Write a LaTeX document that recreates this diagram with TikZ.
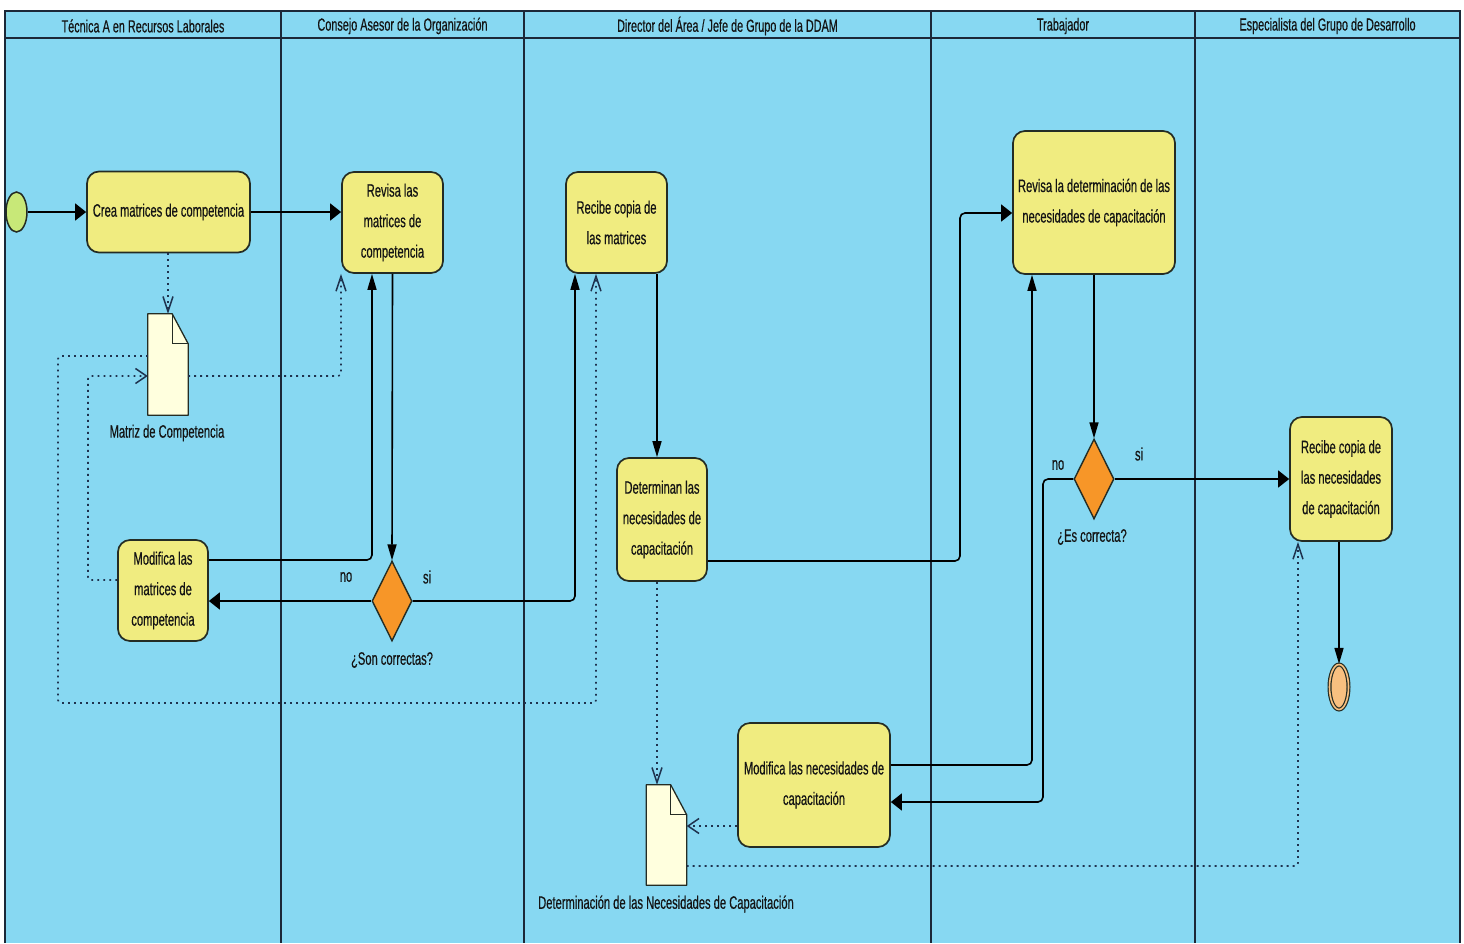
\documentclass[tikz,border=0pt]{standalone}
\usepackage{fontspec}
\setmainfont[FakeStretch=0.62,FakeBold=0.4]{Liberation Sans}
\usetikzlibrary{arrows.meta,shapes.geometric}

\definecolor{lanebg}{RGB}{135,216,242}
\definecolor{actfill}{RGB}{240,236,128}
\definecolor{boxline}{RGB}{36,44,36}
\definecolor{docfill}{RGB}{255,255,222}
\definecolor{decfill}{RGB}{247,150,40}
\definecolor{startfill}{RGB}{200,232,120}
\definecolor{endfill}{RGB}{248,192,128}
\definecolor{laneline}{RGB}{28,40,56}
\definecolor{dotcol}{RGB}{30,50,78}
\definecolor{txtcol}{RGB}{20,20,20}

\begin{document}
\begin{tikzpicture}[x=1pt,y=-1pt,
  txt/.style={font=\fontsize{18}{30.5}\selectfont, text=txtcol, inner sep=0pt, align=center},
  hdr/.style={font=\fontsize{17.5}{20}\selectfont, text=txtcol, inner sep=0pt},
  act/.style={txt, draw=boxline, line width=1.7pt, fill=actfill, rounded corners=12pt},
  dec/.style={diamond, draw=boxline, line width=1.4pt, fill=decfill, inner sep=0pt,
    minimum width=40pt, minimum height=80pt},
  docbox/.style={inner sep=0pt, minimum width=40pt, minimum height=101pt},
  docshape/.style={fill=docfill, draw=boxline, line width=1.3pt, line join=round},
  flow/.style={draw=black, line width=1.6pt, rounded corners=5pt},
  hx/.style={-{Triangle[length=11pt,width=17pt]}},
  vx/.style={-{Triangle[length=16pt,width=9pt]}},
  dep/.style={draw=dotcol, line width=1.6pt, dash pattern=on 1.8pt off 4.2pt, rounded corners=3pt},
  ho/.style={-{Straight Barb[length=11pt,width=15pt,line width=1.5pt]}},
  vo/.style={-{Straight Barb[length=15pt,width=10pt,line width=1.5pt]}}
]
\useasboundingbox (0,0) rectangle (1464,943);
\fill[white] (0,0) rectangle (1464,943);

% pool with five lanes
\fill[lanebg] (5,11) rectangle (1460,943);
\draw[laneline, line width=2pt] (5,943) -- (5,11) -- (1460,11) -- (1460,943);
\draw[laneline, line width=2pt] (5,38) -- (1460,38);
\foreach \lx in {281,524,931,1195}
  \draw[laneline, line width=1.1pt] (\lx,11) -- (\lx,943);

\node[hdr] (h1) at (143,26) {Técnica A en Recursos Laborales};
\node[hdr] (h2) at (402.5,26) {Consejo Asesor de la Organización};
\node[hdr] (h3) at (727.5,26) {Director del Área / Jefe de Grupo de la DDAM};
\node[hdr] (h4) at (1063,26) {Trabajador};
\node[hdr] (h5) at (1327.5,26) {Especialista del Grupo de Desarrollo};

% start and end events
\node[ellipse, draw=boxline, line width=1.5pt, fill=startfill, inner sep=0pt,
  minimum width=21pt, minimum height=40pt] (start) at (16.5,212) {};
\node[ellipse, draw=boxline, line width=1.2pt, double=endfill, double distance=1.6pt,
  fill=endfill, inner sep=0pt, minimum width=19pt, minimum height=45pt] (endN) at (1339,687) {};

% activities
\node[act, minimum width=163pt, minimum height=81pt] (crea) at (168.5,212) {Crea matrices de competencia};
\node[act, minimum width=101pt, minimum height=101pt] (revisa) at (392.5,222.5) {Revisa las\\matrices de\\competencia};
\node[act, minimum width=90pt, minimum height=101pt] (modA) at (163,590.5) {Modifica las\\matrices de\\competencia};
\node[act, minimum width=101pt, minimum height=101pt] (recA) at (616.5,222.5) {Recibe copia de\\las matrices};
\node[act, minimum width=90pt, minimum height=123pt] (detN) at (662,519.5) {Determinan las\\necesidades de\\capacitación};
\node[act, minimum width=152pt, minimum height=124pt] (modB) at (814,785) {Modifica las necesidades de\\capacitación};
\node[act, minimum width=162pt, minimum height=143pt] (revB) at (1094,202.5) {Revisa la determinación de las\\necesidades de capacitación};
\node[act, minimum width=102pt, minimum height=124pt] (recB) at (1341,479) {Recibe copia de\\las necesidades\\de capacitación};

% decisions
\node[dec] (decA) at (392,601) {};
\node[txt] (decAl) at (392,660) {¿Son correctas?};
\node[txt] (decAno) at (346,577) {no};
\node[txt] (decAsi) at (427,577) {si};
\node[dec] (decB) at (1094,479) {};
\node[txt] (decBl) at (1092,537) {¿Es correcta?};
\node[txt] (decBno) at (1058,465) {no};
\node[txt] (decBsi) at (1139,454) {si};

% data objects
\node[docbox] (docA) at (168,364.5) {};
\node[docbox, minimum height=100pt] (docB) at (666.5,835) {};
\foreach \d in {docA,docB}{
  \path[docshape] (\d.north west) -- ([xshift=-16pt]\d.north east) -- ([yshift=-30pt]\d.north east)
    -- (\d.south east) -- (\d.south west) -- cycle;
  \draw[boxline, line width=1.3pt] ([xshift=-16pt]\d.north east) -- ([xshift=-16pt,yshift=-30pt]\d.north east)
    -- ([yshift=-30pt]\d.north east);
}
\node[txt] (docAl) at (167,433) {Matriz de Competencia};
\node[txt] (docBl) at (666,904) {Determinación de las Necesidades de Capacitación};

% bend points
\coordinate (b1) at (372,560);
\coordinate (b2) at (575,601);
\coordinate (b3) at (657,0);
\coordinate (b4) at (960,561);
\coordinate (b5) at (960,213);
\coordinate (b6) at (1043,479);
\coordinate (b7) at (1043,802);
\coordinate (b8) at (1032,765);
\coordinate (c1) at (341,376);
\coordinate (c2) at (88,580);
\coordinate (c3) at (88,376);
\coordinate (c4) at (58,356);
\coordinate (c5) at (58,703);
\coordinate (c6) at (596,703);
\coordinate (c8) at (700,826);
\coordinate (c9) at (1298,866);

% control flow
\draw[flow, hx] (start.east) -- (crea.west |- start.east);
\draw[flow, hx] (crea.east) -- (crea.east -| revisa.west);
\draw[flow, vx] (revisa.south) -- (decA.north);
\draw[flow, hx] (decA.west) -- (decA.west -| modA.east);
\draw[flow, vx] (modA.east |- b1) -- (b1) -- (b1 |- revisa.south);
\draw[flow, vx] (decA.east) -- (b2) -- (b2 |- recA.south);
\draw[flow, vx] (b3 |- recA.south) -- (b3 |- detN.north);
\draw[flow, hx] (detN.east |- b4) -- (b4) -- (b5) -- (b5 -| revB.west);
\draw[flow, vx] (revB.south) -- (decB.north);
\draw[flow, hx] (decB.east) -- (recB.west);
\draw[flow, hx] (decB.west) -- (b6) -- (b7) -- (b7 -| modB.east);
\draw[flow, vx] (modB.east |- b8) -- (b8) -- (b8 |- revB.south);
\draw[flow, vx] (recB.south -| endN.north) -- (endN.north);

% object flow
\draw[dep, vo] (crea.south -| docA.north) -- (docA.north);
\draw[dep, vo] (docA.east |- c1) -- (c1) -- (c1 |- revisa.south);
\draw[dep, ho] (modA.west |- c2) -- (c2) -- (c3) -- (c3 -| docA.west);
\draw[dep, vo] (docA.west |- c4) -- (c4) -- (c5) -- (c6) -- (c6 |- recA.south);
\draw[dep, vo] (b3 |- detN.south) -- (b3 |- docB.north);
\draw[dep, ho] (modB.west |- c8) -- (docB.east |- c8);
\draw[dep, vo] (docB.east |- c9) -- (c9) -- (c9 |- recB.south);
\end{tikzpicture}
\end{document}
